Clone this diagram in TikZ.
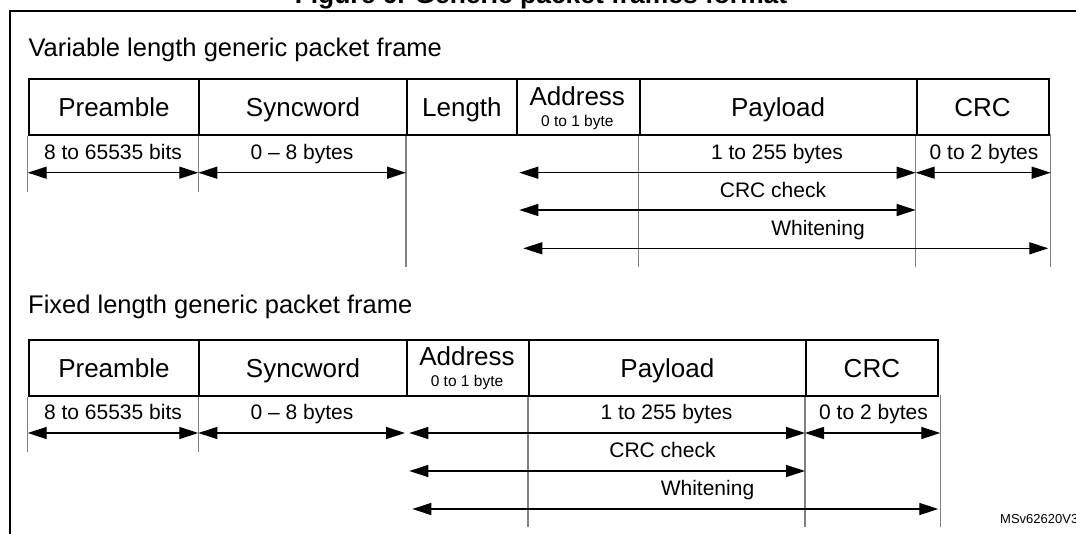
\documentclass[tikz,border=0pt]{standalone}
\usepackage{fontspec}
\setmainfont{Liberation Sans}
\usetikzlibrary{arrows.meta}
\definecolor{extgray}{RGB}{128,128,128}
\begin{document}
\begin{tikzpicture}[x=1pt,y=-1pt,
  box/.style={draw=black, line width=1.8pt, minimum height=55.7pt, inner sep=0pt,
    anchor=north west, text height=19pt, text depth=0pt, font=\fontsize{26}{30}\selectfont},
  dim/.style={line width=1.3pt, arrows={Triangle[length=19pt,width=12pt]-Triangle[length=19pt,width=12pt]}},
  ext/.style={draw=extgray, line width=1.1pt},
  lab/.style={font=\fontsize{21}{24}\selectfont, anchor=base, inner sep=0pt},
  small/.style={font=\fontsize{15.5}{18}\selectfont, anchor=base, inner sep=0pt},
  big/.style={font=\fontsize{26}{30}\selectfont, anchor=base, inner sep=0pt},
  head/.style={font=\fontsize{25.5}{30}\selectfont, anchor=base west, inner sep=0pt},
  frameline/.style={line width=1.8pt}]
\useasboundingbox (0,0) rectangle (1076,533);
\fill[white] (0,0) rectangle (1076,533);

% title and outer frame
\node[font=\bfseries\fontsize{26.4}{30}\selectfont, anchor=base, inner sep=0pt] (title) at (541,3.5) {Figure 6. Generic packet frames format};
\coordinate (fbl) at (10,545);
\coordinate (ftl) at (10,11);
\coordinate (ftr) at (1090,11);
\draw[frameline] (fbl) -- (ftl) -- (ftr);

% ================= Variable length =================
\node[head] (h1) at (28.3,56) {Variable length generic packet frame};

\node[box, minimum width=170.6pt] (pre1) at (27.7,78.3) {Preamble};
\node[box, minimum width=207.7pt] (syn1) at (198.3,78.3) {Syncword};
\node[box, minimum width=110pt] (len1) at (406,78.3) {Length};
\node[box, minimum width=122.7pt] (adr1) at (516,78.3) {};
\node[box, minimum width=277pt] (pay1) at (638.7,78.3) {Payload};
\node[box, minimum width=132pt] (crc1) at (915.7,78.3) {CRC};
\node[big] (adrt1) at (577.3,105) {Address};
\node[small] (adrs1) at (577.3,126) {0 to 1 byte};

% extension lines
\coordinate (e1a) at (27.7,191.7);
\coordinate (e1b) at (198.3,191.7);
\coordinate (e1c) at (406,266.7);
\coordinate (e1d) at (638.7,266.7);
\coordinate (e1e) at (915.7,266.7);
\coordinate (e1ft) at (1050.7,134);
\coordinate (e1f) at (1050.7,266.7);
\draw[ext] (pre1.south west) -- (e1a);
\draw[ext] (syn1.south west) -- (e1b);
\draw[ext] (len1.south west) -- (e1c);
\draw[ext] (pay1.south west) -- (e1d);
\draw[ext] (crc1.south west) -- (e1e);
\draw[ext] (e1ft) -- (e1f);

% dimension arrows
\coordinate (a1) at (27.7,172.7);
\coordinate (a2) at (198.3,172.7);
\coordinate (a3) at (406,172.7);
\coordinate (a4) at (519.3,172.7);
\coordinate (a5) at (915.7,172.7);
\coordinate (a6) at (1050.7,172.7);
\draw[dim] (a1) -- (a2);
\draw[dim] (a2) -- (a3);
\draw[dim] (a4) -- (a5);
\draw[dim] (a5) -- (a6);
\coordinate (c1l) at (519.3,210);
\coordinate (c1r) at (915.7,210);
\draw[dim] (c1l) -- (c1r);
\coordinate (w1l) at (523.3,248.3);
\coordinate (w1r) at (1048.3,248.3);
\draw[dim] (w1l) -- (w1r);

\node[lab] (l1a) at (113,159.5) {8 to 65535 bits};
\node[lab] (l1b) at (302,159.5) {0 -- 8 bytes};
\node[lab] (l1c) at (777,159.5) {1 to 255 bytes};
\node[lab] (l1d) at (984,159.5) {0 to 2 bytes};
\node[lab] (l1e) at (773,197.3) {CRC check};
\node[lab] (l1f) at (818,235.6) {Whitening};

% ================= Fixed length =================
\node[head] (h2) at (28,313.3) {Fixed length generic packet frame};

\node[box, minimum width=170.6pt] (pre2) at (27.7,339) {Preamble};
\node[box, minimum width=207.7pt] (syn2) at (198.3,339) {Syncword};
\node[box, minimum width=122pt] (adr2) at (406,339) {};
\node[box, minimum width=277pt] (pay2) at (528,339) {Payload};
\node[box, minimum width=132pt] (crc2) at (805,339) {CRC};
\node[big] (adrt2) at (467,365.5) {Address};
\node[small] (adrs2) at (467,386) {0 to 1 byte};

\coordinate (e2a) at (27.7,451.7);
\coordinate (e2b) at (198.3,451.7);
\coordinate (e2d) at (528,526.7);
\coordinate (e2e) at (805,526.7);
\coordinate (e2ft) at (940.3,395);
\coordinate (e2f) at (940.3,526.7);
\draw[ext] (pre2.south west) -- (e2a);
\draw[ext] (syn2.south west) -- (e2b);
\draw[ext] (pay2.south west) -- (e2d);
\draw[ext] (crc2.south west) -- (e2e);
\draw[ext] (e2ft) -- (e2f);

\coordinate (b1) at (27.7,433);
\coordinate (b2) at (198.3,433);
\coordinate (b3) at (405,433);
\coordinate (b4) at (409.3,433);
\coordinate (b5) at (805,433);
\coordinate (b6) at (940.3,433);
\draw[dim] (b1) -- (b2);
\draw[dim] (b2) -- (b3);
\draw[dim] (b4) -- (b5);
\draw[dim] (b5) -- (b6);
\coordinate (c2l) at (409.3,471);
\coordinate (c2r) at (805,471);
\draw[dim] (c2l) -- (c2r);
\coordinate (w2l) at (412.3,509);
\coordinate (w2r) at (938.3,509);
\draw[dim] (w2l) -- (w2r);

\node[lab] (l2a) at (113,419) {8 to 65535 bits};
\node[lab] (l2b) at (302,419) {0 -- 8 bytes};
\node[lab] (l2c) at (666.5,419) {1 to 255 bytes};
\node[lab] (l2d) at (873.5,419) {0 to 2 bytes};
\node[lab] (l2e) at (662.5,457.5) {CRC check};
\node[lab] (l2f) at (707.5,495.5) {Whitening};

\node[font=\fontsize{13}{16}\selectfont, anchor=base west, inner sep=0pt] (msv) at (1000,523.5) {MSv62620V3};
\end{tikzpicture}
\end{document}
